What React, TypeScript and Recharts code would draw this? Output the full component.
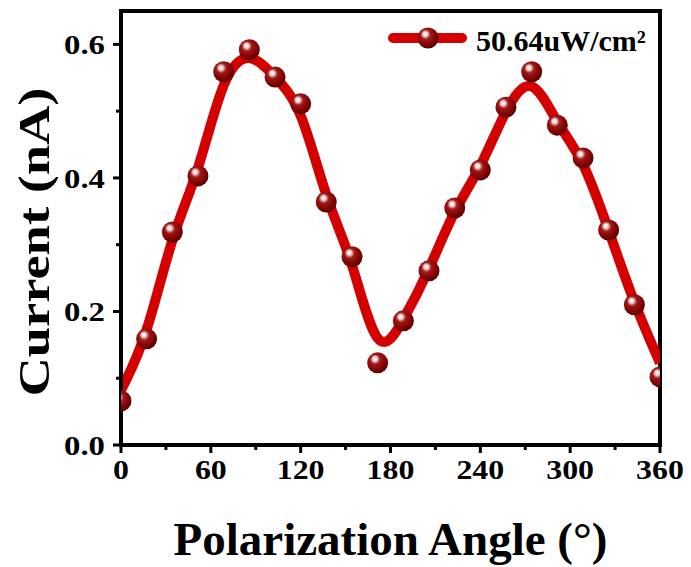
import { ComposedChart, Line, Scatter, XAxis, YAxis, Label, ReferenceArea } from 'recharts';

// measured points
const angles = [0, 17.1, 34.3, 51.4, 68.6, 85.7, 102.9, 120, 137.1, 154.3, 171.4, 188.6, 205.7, 222.9, 240, 257.1, 274.3, 291.4, 308.6, 325.7, 342.9, 360];
const current = [0.066, 0.159, 0.319, 0.403, 0.559, 0.592, 0.551, 0.511, 0.364, 0.282, 0.123, 0.186, 0.261, 0.355, 0.412, 0.506, 0.559, 0.479, 0.43, 0.322, 0.21, 0.102];

// B-spline control values (same as data, end values)
const lineCurrent = [0.082, 0.159, 0.319, 0.403, 0.559, 0.592, 0.551, 0.511, 0.364, 0.282, 0.123, 0.186, 0.261, 0.355, 0.412, 0.506, 0.559, 0.479, 0.43, 0.322, 0.21, 0.123];

const xTicks = [0, 30, 60, 90, 120, 150, 180, 210, 240, 270, 300, 330, 360];
const yTicks = [0, 0.1, 0.2, 0.3, 0.4, 0.5, 0.6];
const seriesName = '50.64uW/cm²';

const points = angles.map((a, i) => ({ angle: a, current: current[i] }));
const curve = angles.map((a, i) => ({ angle: a, fit: lineCurrent[i] }));

const FONT = '"Liberation Serif", "Times New Roman", serif';
const RED = '#d40000';

const XTick = ({ x, y, payload }: any) => {
  const major = payload.value % 60 === 0;
  return (
    <g>
      <line x1={x} x2={x} y1={y} y2={y + (major ? 8 : 5)} stroke="#000" strokeWidth={3} />
      {major && (
        <text
          transform={`translate(${x} ${y + 34}) scale(1.18 1)`}
          textAnchor="middle"
          fontFamily={FONT}
          fontWeight="bold"
          fontSize={27}
          fill="#000"
        >
          {payload.value}
        </text>
      )}
    </g>
  );
};

const YTick = ({ x, y, payload }: any) => {
  const major = Math.round(payload.value * 10) % 2 === 0;
  return (
    <g>
      <line x1={x} x2={x - (major ? 8 : 5)} y1={y} y2={y} stroke="#000" strokeWidth={3} />
      {major && (
        <text
          transform={`translate(${x - 16} ${y}) scale(1.17 1)`}
          dy="0.35em"
          textAnchor="end"
          fontFamily={FONT}
          fontWeight="bold"
          fontSize={28}
          fill="#000"
        >
          {payload.value.toFixed(1)}
        </text>
      )}
    </g>
  );
};

const Ball = (props: any) => (
  <circle cx={props.cx} cy={props.cy} r={10.5} fill="url(#ball)" />
);

const App = () => {
  return (
    <div style={{ position: 'absolute', left: 0, top: 0, width: 691, height: 567, background: '#fff' }}>
      <ComposedChart width={691} height={567} margin={{ top: 11, right: 31, left: 0, bottom: 0 }}>
        <defs>
          <radialGradient id="ball" cx="42%" cy="38%" r="62%" fx="36%" fy="30%">
            <stop offset="0%" stopColor="#ffffff" />
            <stop offset="16%" stopColor="#f4dcdc" />
            <stop offset="38%" stopColor="#a21818" />
            <stop offset="70%" stopColor="#860606" />
            <stop offset="100%" stopColor="#5a0000" />
          </radialGradient>
        </defs>
        <XAxis
          dataKey="angle"
          type="number"
          domain={[0, 360]}
          ticks={xTicks}
          allowDataOverflow
          height={122}
          tickSize={0}
          tickMargin={0}
          tickLine={false}
          tick={<XTick />}
          axisLine={{ stroke: '#000', strokeWidth: 4 }}
          interval={0}
        >
          <Label
            content={(p: any) => (
              <text
                x={p.viewBox.x + p.viewBox.width / 2}
                y={p.viewBox.y + 110}
                textAnchor="middle"
                fontFamily={FONT}
                fontWeight="bold"
                fontSize={47}
                fill="#000"
              >
                Polarization Angle (°)
              </text>
            )}
          />
        </XAxis>
        <YAxis
          type="number"
          domain={[0, 0.65]}
          ticks={yTicks}
          allowDataOverflow
          width={121}
          tickSize={0}
          tickMargin={0}
          tickLine={false}
          tick={<YTick />}
          axisLine={{ stroke: '#000', strokeWidth: 4 }}
          interval={0}
        >
          <Label
            content={(p: any) => {
              const cx = 33;
              const cy = p.viewBox.y + p.viewBox.height / 2 + 14;
              return (
                <text
                  x={cx}
                  y={cy}
                  dy="0.35em"
                  transform={`rotate(-90 ${cx} ${cy})`}
                  textAnchor="middle"
                  textLength={309}
                  lengthAdjust="spacingAndGlyphs"
                  fontFamily={FONT}
                  fontWeight="bold"
                  fontSize={45}
                  fill="#000"
                >
                  Current (nA)
                </text>
              );
            }}
          />
        </YAxis>
        <Line
          data={curve}
          dataKey="fit"
          type="basis"
          stroke={RED}
          strokeWidth={10}
          dot={false}
          activeDot={false}
          legendType="none"
          isAnimationActive={false}
        />
        <Scatter data={points} dataKey="current" shape={<Ball />} isAnimationActive={false} />
        <ReferenceArea x1={0} x2={360} y1={0} y2={0.65} fill="none" stroke="#000" strokeWidth={4} ifOverflow="visible" />
      </ComposedChart>
      <svg width={691} height={70} style={{ position: 'absolute', left: 0, top: 0, pointerEvents: 'none' }}>
        <line x1={393} x2={462} y1={38} y2={38} stroke={RED} strokeWidth={10} strokeLinecap="round" />
        <circle cx={428} cy={38} r={10.5} fill="url(#ball)" />
        <text x={476} y={51} fontFamily={FONT} fontWeight="bold" fontSize={30} fill="#000">
          {seriesName}
        </text>
      </svg>
    </div>
  );
};

export default App;
